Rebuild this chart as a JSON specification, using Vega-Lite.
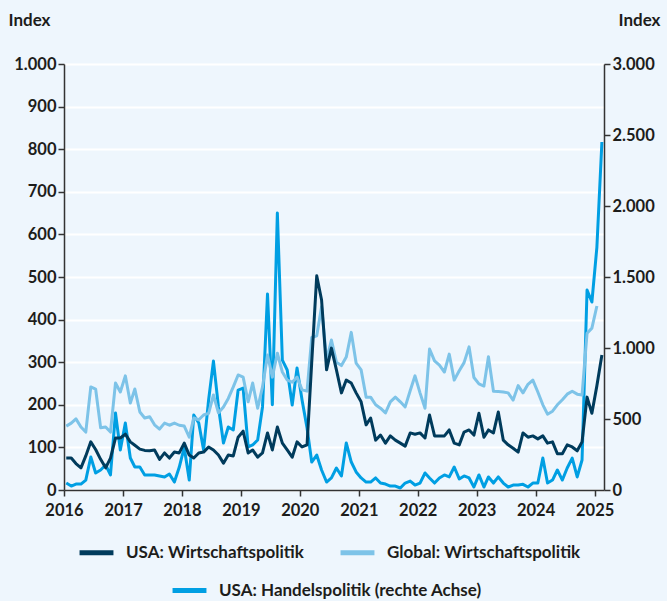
{
  "$schema": "https://vega.github.io/schema/vega-lite/v6.json",
  "width": 540,
  "height": 426,
  "autosize": "none",
  "padding": {"left": 64, "top": 64, "right": 63, "bottom": 111},
  "background": "#eef6fd",
  "config": {
    "view": {"stroke": null},
    "font": "Lato",
    "axis": {
      "labelFont": "Lato", "labelFontWeight": "bold", "labelFontSize": 16.5, "labelColor": "#1d1d1b",
      "titleFont": "Lato", "titleFontWeight": "bold", "titleFontSize": 17, "titleColor": "#1d1d1b",
      "domainColor": "#333333", "domainWidth": 1.5, "tickColor": "#333333", "tickWidth": 1.5, "tickSize": 6
    },
    "legend": {
      "labelFont": "Lato", "labelFontWeight": "bold", "labelFontSize": 17, "labelColor": "#1d1d1b", "labelLimit": 400,
      "symbolType": "stroke", "symbolStrokeWidth": 5, "symbolSize": 1150
    }
  },
  "data": {"values": [
    {"d":"2016-01-15","u":75,"g":150,"h":49},
    {"d":"2016-02-15","u":75,"g":157,"h":28},
    {"d":"2016-03-15","u":62,"g":167,"h":42},
    {"d":"2016-04-15","u":52,"g":148,"h":42},
    {"d":"2016-05-15","u":80,"g":136,"h":70},
    {"d":"2016-06-15","u":113,"g":242,"h":232},
    {"d":"2016-07-15","u":95,"g":237,"h":120},
    {"d":"2016-08-15","u":72,"g":146,"h":141},
    {"d":"2016-09-15","u":52,"g":148,"h":176},
    {"d":"2016-10-15","u":75,"g":136,"h":106},
    {"d":"2016-11-15","u":122,"g":251,"h":542},
    {"d":"2016-12-15","u":122,"g":230,"h":282},
    {"d":"2017-01-15","u":131,"g":268,"h":472},
    {"d":"2017-02-15","u":113,"g":204,"h":225},
    {"d":"2017-03-15","u":105,"g":237,"h":162},
    {"d":"2017-04-15","u":96,"g":183,"h":162},
    {"d":"2017-05-15","u":93,"g":169,"h":106},
    {"d":"2017-06-15","u":92,"g":172,"h":106},
    {"d":"2017-07-15","u":94,"g":153,"h":106},
    {"d":"2017-08-15","u":72,"g":143,"h":99},
    {"d":"2017-09-15","u":87,"g":157,"h":92},
    {"d":"2017-10-15","u":75,"g":152,"h":113},
    {"d":"2017-11-15","u":89,"g":157,"h":56},
    {"d":"2017-12-15","u":87,"g":152,"h":160},
    {"d":"2018-01-15","u":110,"g":150,"h":300},
    {"d":"2018-02-15","u":82,"g":124,"h":70},
    {"d":"2018-03-15","u":75,"g":169,"h":528},
    {"d":"2018-04-15","u":87,"g":165,"h":472},
    {"d":"2018-05-15","u":89,"g":176,"h":282},
    {"d":"2018-06-15","u":101,"g":180,"h":634},
    {"d":"2018-07-15","u":94,"g":223,"h":908},
    {"d":"2018-08-15","u":82,"g":181,"h":585},
    {"d":"2018-09-15","u":63,"g":195,"h":331},
    {"d":"2018-10-15","u":82,"g":215,"h":444},
    {"d":"2018-11-15","u":80,"g":242,"h":423},
    {"d":"2018-12-15","u":124,"g":270,"h":704},
    {"d":"2019-01-15","u":138,"g":265,"h":718},
    {"d":"2019-02-15","u":87,"g":207,"h":303},
    {"d":"2019-03-15","u":94,"g":251,"h":317},
    {"d":"2019-04-15","u":77,"g":192,"h":352},
    {"d":"2019-05-15","u":87,"g":242,"h":585},
    {"d":"2019-06-15","u":134,"g":317,"h":1380},
    {"d":"2019-07-15","u":94,"g":265,"h":600},
    {"d":"2019-08-15","u":148,"g":321,"h":1951},
    {"d":"2019-09-15","u":110,"g":277,"h":915},
    {"d":"2019-10-15","u":94,"g":258,"h":845},
    {"d":"2019-11-15","u":77,"g":253,"h":599},
    {"d":"2019-12-15","u":113,"g":265,"h":859},
    {"d":"2020-01-15","u":101,"g":235,"h":634},
    {"d":"2020-02-15","u":106,"g":232,"h":437},
    {"d":"2020-03-15","u":300,"g":358,"h":197},
    {"d":"2020-04-15","u":503,"g":362,"h":246},
    {"d":"2020-05-15","u":446,"g":430,"h":141},
    {"d":"2020-06-15","u":282,"g":305,"h":56},
    {"d":"2020-07-15","u":333,"g":352,"h":85},
    {"d":"2020-08-15","u":282,"g":300,"h":155},
    {"d":"2020-09-15","u":228,"g":292,"h":99},
    {"d":"2020-10-15","u":258,"g":312,"h":331},
    {"d":"2020-11-15","u":251,"g":370,"h":197},
    {"d":"2020-12-15","u":228,"g":298,"h":127},
    {"d":"2021-01-15","u":207,"g":282,"h":85},
    {"d":"2021-02-15","u":153,"g":218,"h":56},
    {"d":"2021-03-15","u":169,"g":218,"h":56},
    {"d":"2021-04-15","u":117,"g":200,"h":85},
    {"d":"2021-05-15","u":129,"g":192,"h":49},
    {"d":"2021-06-15","u":110,"g":181,"h":42},
    {"d":"2021-07-15","u":127,"g":207,"h":28},
    {"d":"2021-08-15","u":117,"g":218,"h":28},
    {"d":"2021-09-15","u":110,"g":207,"h":14},
    {"d":"2021-10-15","u":103,"g":195,"h":49},
    {"d":"2021-11-15","u":134,"g":233,"h":63},
    {"d":"2021-12-15","u":131,"g":268,"h":35},
    {"d":"2022-01-15","u":134,"g":228,"h":49},
    {"d":"2022-02-15","u":122,"g":192,"h":120},
    {"d":"2022-03-15","u":176,"g":331,"h":85},
    {"d":"2022-04-15","u":127,"g":303,"h":49},
    {"d":"2022-05-15","u":127,"g":293,"h":85},
    {"d":"2022-06-15","u":127,"g":277,"h":106},
    {"d":"2022-07-15","u":141,"g":319,"h":92},
    {"d":"2022-08-15","u":110,"g":258,"h":162},
    {"d":"2022-09-15","u":106,"g":280,"h":78},
    {"d":"2022-10-15","u":136,"g":299,"h":99},
    {"d":"2022-11-15","u":141,"g":336,"h":85},
    {"d":"2022-12-15","u":129,"g":264,"h":21},
    {"d":"2023-01-15","u":180,"g":249,"h":106},
    {"d":"2023-02-15","u":124,"g":244,"h":21},
    {"d":"2023-03-15","u":141,"g":313,"h":92},
    {"d":"2023-04-15","u":134,"g":232,"h":49},
    {"d":"2023-05-15","u":183,"g":231,"h":92},
    {"d":"2023-06-15","u":117,"g":230,"h":49},
    {"d":"2023-07-15","u":106,"g":228,"h":21},
    {"d":"2023-08-15","u":98,"g":211,"h":35},
    {"d":"2023-09-15","u":89,"g":245,"h":35},
    {"d":"2023-10-15","u":134,"g":228,"h":40},
    {"d":"2023-11-15","u":124,"g":248,"h":21},
    {"d":"2023-12-15","u":127,"g":258,"h":49},
    {"d":"2024-01-15","u":120,"g":230,"h":49},
    {"d":"2024-02-15","u":127,"g":200,"h":225},
    {"d":"2024-03-15","u":110,"g":178,"h":49},
    {"d":"2024-04-15","u":113,"g":185,"h":70},
    {"d":"2024-05-15","u":85,"g":200,"h":141},
    {"d":"2024-06-15","u":85,"g":212,"h":70},
    {"d":"2024-07-15","u":106,"g":225,"h":155},
    {"d":"2024-08-15","u":101,"g":232,"h":225},
    {"d":"2024-09-15","u":92,"g":225,"h":92},
    {"d":"2024-10-15","u":113,"g":223,"h":211},
    {"d":"2024-11-15","u":218,"g":368,"h":1408},
    {"d":"2024-12-15","u":180,"g":380,"h":1324},
    {"d":"2025-01-15","u":245,"g":432,"h":1711},
    {"d":"2025-02-15","u":317,"h":2451}
  ]},
  "encoding": {
    "x": {
      "field": "d", "type": "temporal",
      "scale": {"domain": [{"year": 2016, "month": 1, "date": 1}, {"year": 2025, "month": 2, "date": 28}]},
      "axis": {"title": null, "format": "%Y", "tickCount": {"interval": "year", "step": 1}, "grid": false, "labelPadding": 6, "labelFlush": false}
    }
  },
  "layer": [
    {
      "mark": {"type": "line", "strokeWidth": 3, "strokeJoin": "round"},
      "encoding": {
        "y": {"field": "h", "type": "quantitative",
          "scale": {"domain": [0, 3000]},
          "axis": {"orient": "right", "values": [0, 500, 1000, 1500, 2000, 2500, 3000], "grid": false,
            "labelExpr": "replace(format(datum.value, ','), ',', '.')",
            "title": "Index", "titleAngle": 0, "titleAlign": "right", "titleBaseline": "middle", "titleX": 56, "titleY": -44}},
        "color": {"datum": "USA: Handelspolitik (rechte Achse)",
          "scale": {"range": ["#009fe3"]},
          "legend": {"title": null, "orient": "none", "legendX": 106, "legendY": 507, "direction": "horizontal", "labelOffset": 10}}
      }
    },
    {
      "layer": [
        {
          "mark": {"type": "line", "strokeWidth": 3, "strokeJoin": "round"},
          "encoding": {
            "y": {"field": "g", "type": "quantitative",
              "scale": {"domain": [0, 1000]},
              "axis": {"orient": "left", "values": [0, 100, 200, 300, 400, 500, 600, 700, 800, 900, 1000], "grid": true, "gridColor": "#ffffff", "gridWidth": 2,
                "labelExpr": "replace(format(datum.value, ','), ',', '.')",
                "title": "Index", "titleAngle": 0, "titleAlign": "left", "titleBaseline": "middle", "titleX": -56, "titleY": -44}},
            "color": {"datum": "Global: Wirtschaftspolitik",
              "scale": {"domain": ["USA: Wirtschaftspolitik", "Global: Wirtschaftspolitik"], "range": ["#003b5c", "#7dc3e8"]},
              "legend": {"title": null, "orient": "none", "legendX": 13, "legendY": 469, "direction": "horizontal", "labelOffset": 10, "columnPadding": 25}}
          }
        },
        {
          "mark": {"type": "line", "strokeWidth": 3, "strokeJoin": "round"},
          "encoding": {
            "y": {"field": "u", "type": "quantitative",
              "scale": {"domain": [0, 1000]},
              "axis": {"orient": "left", "values": [0, 100, 200, 300, 400, 500, 600, 700, 800, 900, 1000], "grid": true, "gridColor": "#ffffff", "gridWidth": 2,
                "labelExpr": "replace(format(datum.value, ','), ',', '.')",
                "title": "Index", "titleAngle": 0, "titleAlign": "left", "titleBaseline": "middle", "titleX": -56, "titleY": -44}},
            "color": {"datum": "USA: Wirtschaftspolitik"}
          }
        }
      ]
    }
  ],
  "resolve": {"scale": {"y": "independent", "color": "independent"}}
}
